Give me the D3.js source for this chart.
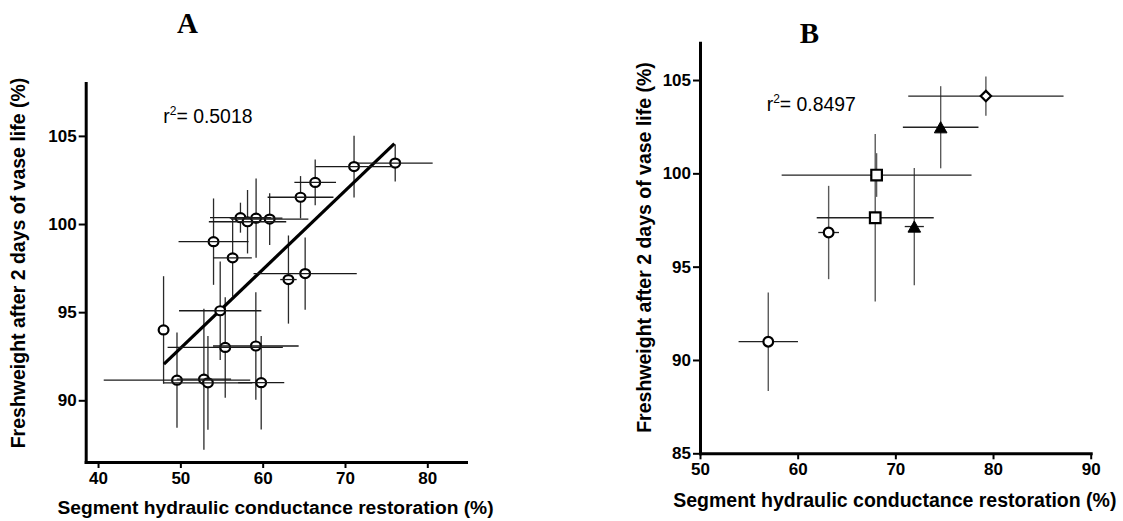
<!DOCTYPE html>
<html><head><meta charset="utf-8">
<script src="https://cdn.jsdelivr.net/npm/d3@7"></script>
<style>
html,body{margin:0;padding:0;background:#fff;}
svg{display:block;}
text{font-family:"Liberation Sans",Arial,sans-serif;fill:#000;}
</style></head>
<body>
<svg id="chart" width="1123" height="521"></svg>
<script>
// ---------- Panel A data ----------
const aX    = [47.96, 49.59, 52.86, 53.35, 59.82, 55.45, 59.17, 54.84, 54.03, 56.35, 57.30, 58.16, 59.20, 60.85, 64.60, 66.38, 71.10, 76.10, 63.13, 65.16];
const aY    = [93.99, 91.14, 91.20, 90.99, 91.00, 93.00, 93.08, 95.08, 99.00, 98.08, 100.36, 100.13, 100.33, 100.28, 101.52, 102.36, 103.26, 103.46, 96.85, 97.19];
const aXErr = [0.0, 8.9, 3.3, 5.4, 2.8, 7.0, 5.2, 5.0, 4.25, 2.33, 3.7, 4.7, 3.2, 4.7, 4.0, 2.53, 4.7, 4.55, 1.0, 6.27];
const aYErr = [3.05, 2.7, 4.0, 2.66, 2.65, 2.85, 3.05, 2.8, 2.45, 2.2, 0.85, 1.8, 2.25, 1.47, 1.2, 1.3, 1.75, 1.05, 2.5, 2.05];
const aRegX = [48, 76];
const aRegY = [92.05, 104.56];
const aXTicks = [40, 50, 60, 70, 80];
const aYTicks = [90, 95, 100, 105];
const aR2 = "0.5018";

// ---------- Panel B data ----------
const bX     = [56.99, 63.17, 68.08, 67.94, 71.94, 74.64, 79.27];
const bY     = [90.98, 96.83, 99.91, 97.62, 97.15, 102.47, 104.14];
const bXErr  = [3.04, 1.06, 9.72, 5.99, 0.98, 3.87, 7.95];
const bYErr  = [2.64, 2.50, 1.17, 4.49, 3.14, 2.20, 1.05];
const bGroup = ["circle", "circle", "square", "square", "triangle", "triangle", "diamond"];
const bXTicks = [50, 60, 70, 80, 90];
const bYTicks = [85, 90, 95, 100, 105];
const bR2 = "0.8497";

const xTitle = "Segment hydraulic conductance restoration (%)";
const yTitle = "Freshweight after 2 days of vase life (%)";

const svg = d3.select("#chart");

function drawAxes(g, x, y, xt, yt) {
  const ya = g.append("g").attr("transform", `translate(${x.range()[0]},0)`)
    .call(d3.axisLeft(y).tickValues(yt).tickSize(7).tickSizeOuter(0).tickPadding(2).tickFormat(d3.format("d")));
  const xa = g.append("g").attr("transform", `translate(0,${y.range()[0]})`)
    .call(d3.axisBottom(x).tickValues(xt).tickSize(6).tickSizeOuter(0).tickPadding(4).tickFormat(d3.format("d")));
  [ya, xa].forEach(a => {
    a.select(".domain").attr("stroke", "#000").attr("stroke-width", 3).attr("stroke-linecap", "square");
    a.selectAll(".tick line").attr("stroke", "#000").attr("stroke-width", 2);
    a.selectAll(".tick text").style("font-family", '"Liberation Sans",Arial,sans-serif')
      .style("font-weight", "bold").style("font-size", "17px").attr("fill", "#000");
  });
}

function r2Text(g, px, py, val) {
  const t = g.append("text").attr("x", px).attr("y", py).style("font-size", "19.4px");
  t.append("tspan").text("r");
  t.append("tspan").attr("dy", -8).style("font-size", "12px").text("2");
  t.append("tspan").attr("dy", 8).text("= " + val);
}

// ================= Panel A =================
{
  const x = d3.scaleLinear().domain([38.5, 84.7]).range([85.7, 466]);
  const y = d3.scaleLinear().domain([86.5, 108]).range([462, 83]);
  const g = svg.append("g");
  const idx = d3.range(aX.length);

  // vertical error bars
  g.selectAll(".ve").data(idx).join("line")
    .attr("x1", i => x(aX[i])).attr("x2", i => x(aX[i]))
    .attr("y1", i => y(aY[i] - aYErr[i])).attr("y2", i => y(aY[i] + aYErr[i]))
    .attr("stroke", "#2a2a2a").attr("stroke-width", 1.3);

  // regression line
  g.append("line")
    .attr("x1", x(aRegX[0])).attr("y1", y(aRegY[0]))
    .attr("x2", x(aRegX[1])).attr("y2", y(aRegY[1]))
    .attr("stroke", "#000").attr("stroke-width", 3.2);

  // markers
  g.selectAll(".pt").data(idx).join("ellipse")
    .attr("cx", i => x(aX[i])).attr("cy", i => y(aY[i]))
    .attr("rx", 4.9).attr("ry", 4.5)
    .attr("fill", "#fff").attr("stroke", "#000").attr("stroke-width", 2.2);

  // horizontal error bars
  g.selectAll(".he").data(idx.filter(i => aXErr[i] > 0)).join("line")
    .attr("x1", i => x(aX[i] - aXErr[i])).attr("x2", i => x(aX[i] + aXErr[i]))
    .attr("y1", i => y(aY[i])).attr("y2", i => y(aY[i]))
    .attr("stroke", "#1a1a1a").attr("stroke-width", 1.3);

  drawAxes(g, x, y, aXTicks, aYTicks);
  r2Text(g, 163.3, 123.3, aR2);

  g.append("text").attr("x", 187.5).attr("y", 33.3).attr("text-anchor", "middle")
    .style("font-family", '"Liberation Serif","Times New Roman",serif')
    .style("font-weight", "bold").style("font-size", "29px").text("A");
  g.append("text").attr("x", 275.5).attr("y", 514).attr("text-anchor", "middle")
    .style("font-weight", "bold").style("font-size", "19.2px").text(xTitle);
  g.append("text").attr("transform", "translate(24.5,263) rotate(-90)").attr("text-anchor", "middle")
    .style("font-weight", "bold").style("font-size", "19.5px").text(yTitle);
}

// ================= Panel B =================
{
  const x = d3.scaleLinear().domain([50, 90]).range([700, 1090.7]);
  const y = d3.scaleLinear().domain([85, 107]).range([453.3, 42.7]);
  const g = svg.append("g");
  const idx = d3.range(bX.length);

  g.selectAll(".ve").data(idx).join("line")
    .attr("x1", i => x(bX[i])).attr("x2", i => x(bX[i]))
    .attr("y1", i => y(bY[i] - bYErr[i])).attr("y2", i => y(bY[i] + bYErr[i]))
    .attr("stroke", "#5a5a5a").attr("stroke-width", 1.4);
  g.selectAll(".he").data(idx).join("line")
    .attr("x1", i => x(bX[i] - bXErr[i])).attr("x2", i => x(bX[i] + bXErr[i]))
    .attr("y1", i => y(bY[i])).attr("y2", i => y(bY[i]))
    .attr("stroke", "#222").attr("stroke-width", 1.3);

  const shapePath = {
    circle: d3.symbol(d3.symbolCircle, Math.PI * 4.85 * 4.85)(),
    square: "M-5.3,-5.3H5.3V5.3H-5.3Z",
    triangle: "M0,-5.6L6.3,5.6L-6.3,5.6Z",
    diamond: "M0,-5.2L5.2,0L0,5.2L-5.2,0Z"
  };
  g.selectAll(".pt").data(idx).join("path")
    .attr("transform", i => `translate(${x(bX[i])},${y(bY[i])})`)
    .attr("d", i => shapePath[bGroup[i]])
    .attr("fill", i => bGroup[i] === "triangle" ? "#000" : "#fff")
    .attr("stroke", "#000").attr("stroke-width", i => bGroup[i] === "triangle" ? 1 : 2.2);

  drawAxes(g, x, y, bXTicks, bYTicks);
  r2Text(g, 766.7, 110.7, bR2);

  g.append("text").attr("x", 809.5).attr("y", 43.3).attr("text-anchor", "middle")
    .style("font-family", '"Liberation Serif","Times New Roman",serif')
    .style("font-weight", "bold").style("font-size", "29px").text("B");
  g.append("text").attr("x", 894.8).attr("y", 507).attr("text-anchor", "middle")
    .style("font-weight", "bold").style("font-size", "19.5px").text(xTitle);
  g.append("text").attr("transform", "translate(651,247.5) rotate(-90)").attr("text-anchor", "middle")
    .style("font-weight", "bold").style("font-size", "19.5px").text(yTitle);
}
</script>
</body></html>
